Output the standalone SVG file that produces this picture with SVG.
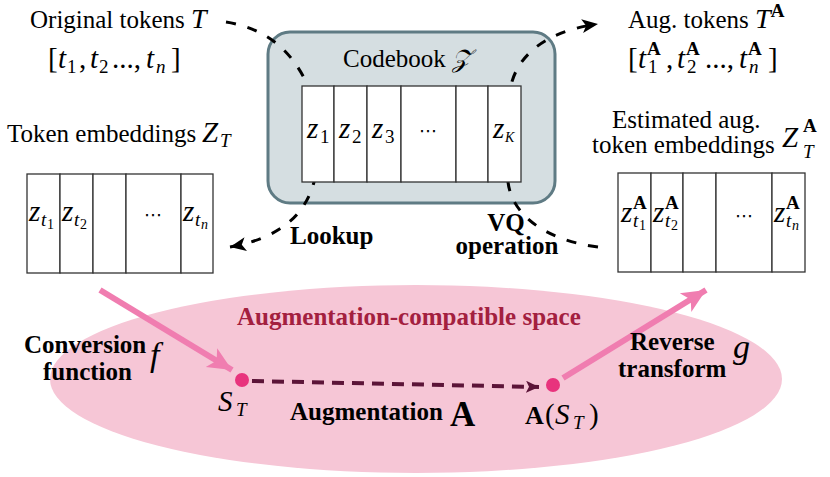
<svg xmlns="http://www.w3.org/2000/svg" width="830" height="477" viewBox="0 0 830 477">
<style>
.t{font-family:"Liberation Serif","Times New Roman",serif;font-size:25px;fill:#000}
.i{font-style:italic}
.b{font-weight:bold}
.m{font-size:29px}
.s{font-size:19px}
.ss{font-size:14px}
.cell{fill:#fff;stroke:#333;stroke-width:1.3}
.dash{fill:none;stroke:#000;stroke-width:3;stroke-dasharray:10 12}
.dots{font-family:"DejaVu Sans",sans-serif;font-size:18px}
</style>
<defs>
<marker id="ah" markerUnits="userSpaceOnUse" markerWidth="20" markerHeight="20" refX="16" refY="8" orient="auto">
<path d="M0,1 L16,8 L0,15 L4,8 z" fill="#000"/>
</marker>
<marker id="ph" markerUnits="userSpaceOnUse" markerWidth="30" markerHeight="30" refX="24" refY="12" orient="auto">
<path d="M0,1 L24,12 L0,23 L6,12 z" fill="#f07db0"/>
</marker>
<marker id="mh" markerUnits="userSpaceOnUse" markerWidth="16" markerHeight="16" refX="13" refY="6" orient="auto">
<path d="M0,0 L13,6 L0,12 L3,6 z" fill="#5c1438"/>
</marker>
</defs>

<g id="space">
<ellipse cx="416" cy="379" rx="366" ry="94" fill="#f6c6d6"/>
<text class="t b" x="237" y="325" style="fill:#a3203f">Augmentation-compatible space</text>
</g>

<g id="codebook">
<rect x="268" y="32" width="287" height="171" rx="22" fill="#d5dee1" stroke="#5f7b84" stroke-width="3"/>
<text class="t" x="343" y="67">Codebook <tspan font-family="DejaVu Serif, serif" class="i">𝒵</tspan></text>
</g>

<g id="connectors">
<path class="dash" d="M226 22 C265 28,292 50,308 86 L314 182 C305 215,280 238,230 247" marker-end="url(#ah)"/>
<path class="dash" d="M598 247 C545 240,512 215,508 182 L510 90 C515 60,540 32,598 24" marker-end="url(#ah)"/>
<line x1="100" y1="290" x2="232" y2="370" stroke="#f07db0" stroke-width="6" marker-end="url(#ph)"/>
<line x1="563" y1="378" x2="706" y2="290" stroke="#f07db0" stroke-width="6" marker-end="url(#ph)"/>
<line x1="252" y1="381" x2="539" y2="387" stroke="#5c1438" stroke-width="4" stroke-dasharray="12 8" marker-end="url(#mh)"/>
<text class="t b" x="290" y="244">Lookup</text>
<text class="t b" x="506" y="231" text-anchor="middle">VQ</text>
<text class="t b" x="507" y="254" text-anchor="middle">operation</text>
</g>

<g id="codebook-entries">
<rect class="cell" x="302" y="86" width="32" height="96"/>
<rect class="cell" x="334" y="86" width="33" height="96"/>
<rect class="cell" x="367" y="86" width="34" height="96"/>
<rect class="cell" x="401" y="86" width="55" height="96"/>
<rect class="cell" x="456" y="86" width="32" height="96"/>
<rect class="cell" x="488" y="86" width="33" height="96"/>
<text class="t m" y="138"><tspan class="i" x="307">z</tspan><tspan class="s" x="320" dy="5">1</tspan><tspan class="i" x="339" dy="-5">z</tspan><tspan class="s" x="352" dy="5">2</tspan><tspan class="i" x="372" dy="-5">z</tspan><tspan class="s" x="385" dy="5">3</tspan></text>
<text class="dots" x="428" y="137" text-anchor="middle">⋯</text>
<text class="t m" y="138"><tspan class="i" x="493">z</tspan><tspan class="ss i" x="505" dy="4">K</tspan></text>
</g>

<g id="original-tokens">
<text class="t" x="30" y="28">Original tokens <tspan class="i" style="font-size:28px">T</tspan></text>
<text class="t m" y="68"><tspan x="48">[</tspan><tspan class="i" x="58">t</tspan><tspan class="s" x="67" dy="5">1</tspan><tspan x="79" dy="-5">,</tspan><tspan class="i" x="90">t</tspan><tspan class="s" x="99" dy="5">2</tspan><tspan x="112" dy="-5">...,</tspan><tspan class="i" x="146">t</tspan><tspan class="s i" x="156" dy="5">n</tspan><tspan x="171" dy="-5">]</tspan></text>
</g>

<g id="aug-tokens">
<text class="t" x="628" y="28">Aug. tokens <tspan class="i" style="font-size:28px">T</tspan><tspan class="s b" dy="-11">A</tspan></text>
<text class="t m" y="68"><tspan x="628">[</tspan><tspan class="i" x="638">t</tspan><tspan class="s b" x="647" dy="-13">A</tspan><tspan class="s" x="648" dy="18">1</tspan><tspan x="666" dy="-5">,</tspan><tspan class="i" x="677">t</tspan><tspan class="s b" x="686" dy="-13">A</tspan><tspan class="s" x="687" dy="18">2</tspan><tspan x="705" dy="-5">...,</tspan><tspan class="i" x="739">t</tspan><tspan class="s b" x="748" dy="-13">A</tspan><tspan class="s i" x="749" dy="18">n</tspan><tspan x="768" dy="-5">]</tspan></text>
</g>

<g id="token-embeddings">
<text class="t" x="7" y="142">Token embeddings</text>
<text class="t i" y="142"><tspan class="m" x="202">Z</tspan><tspan class="s" x="220" dy="5">T</tspan></text>
<rect class="cell" x="27" y="174" width="33" height="99"/>
<rect class="cell" x="60" y="174" width="33" height="99"/>
<rect class="cell" x="93" y="174" width="33" height="99"/>
<rect class="cell" x="126" y="174" width="55" height="99"/>
<rect class="cell" x="181" y="174" width="32" height="99"/>
<text class="t m" y="221"><tspan class="i" x="29">z</tspan><tspan class="s i" x="41" dy="5">t</tspan><tspan class="ss" x="47" dy="3">1</tspan><tspan class="i" x="62" dy="-8">z</tspan><tspan class="s i" x="74" dy="5">t</tspan><tspan class="ss" x="80" dy="3">2</tspan><tspan class="i" x="183" dy="-8">z</tspan><tspan class="s i" x="195" dy="5">t</tspan><tspan class="ss i" x="201" dy="3">n</tspan></text>
<text class="dots" x="153" y="221" text-anchor="middle">⋯</text>
</g>

<g id="aug-embeddings">
<text class="t" x="612" y="128">Estimated aug.</text>
<text class="t" x="592" y="153">token embeddings</text>
<text class="t" y="147"><tspan class="i m" x="782">Z</tspan><tspan class="s b" x="803" dy="-15">A</tspan><tspan class="s i" x="803" dy="26">T</tspan></text>
<rect class="cell" x="618" y="173" width="33" height="99"/>
<rect class="cell" x="651" y="173" width="32" height="99"/>
<rect class="cell" x="683" y="173" width="33" height="99"/>
<rect class="cell" x="716" y="173" width="56" height="99"/>
<rect class="cell" x="772" y="173" width="33" height="99"/>
<text class="t m" y="222"><tspan class="i" x="621">z</tspan><tspan class="s b" x="633" dy="-13">A</tspan><tspan class="s i" x="633" dy="18">t</tspan><tspan class="ss" x="639" dy="3">1</tspan><tspan class="i" x="653" dy="-8">z</tspan><tspan class="s b" x="665" dy="-13">A</tspan><tspan class="s i" x="665" dy="18">t</tspan><tspan class="ss" x="671" dy="3">2</tspan><tspan class="i" x="774" dy="-8">z</tspan><tspan class="s b" x="786" dy="-13">A</tspan><tspan class="s i" x="786" dy="18">t</tspan><tspan class="ss i" x="792" dy="3">n</tspan></text>
<text class="dots" x="744" y="222" text-anchor="middle">⋯</text>
</g>

<g id="conversion">
<text class="t b" x="24" y="353">Conversion</text>
<text class="t b" x="43" y="380">function</text>
<text class="t i" x="150" y="366" style="font-size:34px">f</text>
</g>

<g id="s-t">
<circle cx="242" cy="380" r="7" fill="#e8337d"/>
<text class="t m" y="411"><tspan class="i" x="218">S</tspan><tspan class="s i" x="236" dy="5">T</tspan></text>
</g>

<g id="augmentation">
<text class="t b" x="290" y="420">Augmentation</text>
<text class="t b" x="450" y="426" style="font-size:35px">A</text>
</g>

<g id="a-s-t">
<circle cx="553" cy="385" r="7" fill="#e8337d"/>
<text class="t m" y="424"><tspan class="b" style="font-size:26px" x="525">A</tspan><tspan x="545">(</tspan><tspan class="i" x="555">S</tspan><tspan class="s i" x="573" dy="5">T</tspan><tspan x="589" dy="-5">)</tspan></text>
</g>

<g id="reverse">
<text class="t b" x="630" y="350">Reverse</text>
<text class="t b" x="618" y="377">transform</text>
<text class="t i" x="733" y="358" style="font-size:34px">g</text>
</g>
</svg>
